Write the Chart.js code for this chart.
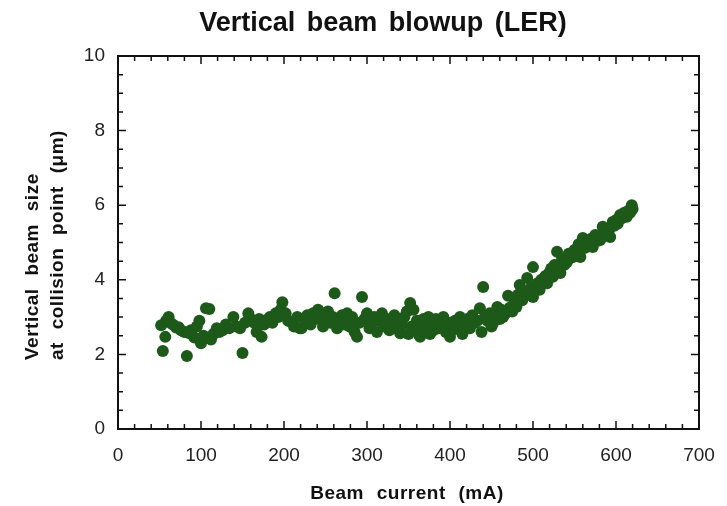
<!DOCTYPE html>
<html>
<head>
<meta charset="utf-8">
<title>Vertical beam blowup (LER)</title>
<script src="https://cdn.jsdelivr.net/npm/chart.js@4"></script>
<style>
  body { margin: 0; background: #fff; }
  #wrap { width: 727px; height: 506px; }
</style>
</head>
<body>
<div id="wrap"><canvas id="beamChart" width="727" height="506"></canvas></div>
<script>
// beam current (mA) and vertical beam size (um)
const beamCurrent = [
  52, 54, 57, 58, 61, 63, 66, 70, 73, 76, 80, 83, 86, 88, 92, 95, 98, 100, 103, 106, 110, 112, 115, 119, 122,
  126, 130, 134, 139, 143, 147, 150, 153, 157, 160, 164, 167, 170, 173, 176, 179, 183, 186, 190, 193, 196, 198, 202,
  205, 209, 212, 216, 219, 221, 225, 228, 232, 235, 238, 241, 244, 247, 250, 253, 256, 259, 261, 264, 267, 270,
  273, 276, 279, 282, 285, 288, 291, 294, 297, 300,
  303, 306, 309, 312, 315, 318, 321, 324, 327, 330, 333, 336, 338, 340, 342, 345, 348, 350, 352, 354, 356, 358,
  360, 362, 364, 366, 368, 370, 372, 374, 376, 378, 380, 383, 386, 389, 392, 395, 398, 400,
  403, 406, 409, 412, 415, 418, 421, 424, 427, 430, 433, 436, 438, 440, 442, 445, 448, 450, 452, 455, 457, 460,
  462, 464, 467, 470, 472, 475, 478, 480, 482, 484, 487, 490, 493, 495, 498, 500, 500, 503, 505, 508, 510, 513,
  515, 517, 520,
  522, 524, 526, 529, 531, 533, 535, 538, 541, 543, 546, 548, 550, 553, 555, 557, 560, 562, 565, 568, 570, 572,
  575, 578, 581, 584, 586, 588, 591, 593, 596, 598, 600, 602, 605, 607, 610, 613, 615, 617, 619, 620
];
const beamSize = [
  2.78, 2.09, 2.47, 2.9, 3.0, 2.85, 2.8, 2.72, 2.73, 2.65, 2.6, 1.96, 2.57, 2.65, 2.45, 2.75, 2.9, 2.3, 2.5, 3.24, 3.22, 2.4, 2.55, 2.7, 2.6,
  2.65, 2.8, 2.7, 3.0, 2.75, 2.7, 2.04, 2.85, 3.1, 2.95, 2.85, 2.6, 2.95, 2.47, 2.8, 2.92, 3.0, 2.85, 3.1, 3.0, 3.2, 3.4, 3.1,
  2.9, 2.87, 2.75, 3.0, 2.7, 2.7, 2.95, 3.05, 2.8, 3.1, 2.95, 3.2, 3.0, 2.75, 2.9, 3.15, 2.85, 3.0, 3.64, 2.7, 2.9, 3.05,
  2.8, 3.1, 2.75, 3.0, 2.6, 2.47, 2.85, 3.54, 2.95, 3.1,
  2.7, 2.85, 3.0, 2.6, 2.9, 3.1, 2.75, 2.95, 2.65, 2.85, 3.05, 2.7, 2.95, 2.57, 2.8, 3.0, 3.15, 2.55, 3.38, 2.75, 3.2, 2.65,
  2.9, 2.55, 2.47, 2.8, 2.95, 2.6, 2.75, 3.0, 2.55, 2.85, 2.65, 2.95, 2.7, 2.8, 3.0, 2.6, 2.85, 2.47,
  2.65, 2.9, 2.75, 3.0, 2.55, 2.8, 2.95, 2.7, 3.05, 2.85, 2.9, 3.24, 2.6, 3.81, 3.0, 2.9, 3.1, 2.75, 2.84, 3.05, 3.27, 2.95,
  3.2, 3.0, 3.1, 3.57, 3.25, 3.15, 3.4, 3.27, 3.6, 3.86, 3.45, 3.7, 4.05, 3.6, 3.8, 4.34, 3.54, 3.75, 3.9, 3.73, 4.0, 3.95,
  4.1, 3.91, 4.2,
  4.3, 4.08, 4.4, 4.75, 4.35, 4.18, 4.55, 4.4, 4.48, 4.7, 4.6, 4.61, 4.8, 4.7, 4.95, 4.61, 5.12, 4.85, 5.0, 4.9, 5.1, 4.88,
  5.2, 5.05, 5.07, 5.42, 5.25, 5.35, 5.3, 5.15, 5.55, 5.45, 5.6, 5.5, 5.74, 5.65, 5.8, 5.69, 5.85, 5.8, 6.0, 5.9
];
const xTicks = [0, 100, 200, 300, 400, 500, 600, 700];
const yTicks = [0, 2, 4, 6, 8, 10];

const font = "'Liberation Sans', Arial, Helvetica, sans-serif";

// frame, inward ticks on all four sides, titles
const framePlugin = {
    id: "frame",
    afterDraw(chart) {
        const ctx = chart.ctx;
        const a = chart.chartArea;
        const xs = chart.scales.x;
        const ys = chart.scales.y;
        ctx.save();
        ctx.strokeStyle = "#111";
        ctx.lineWidth = 2;
        ctx.strokeRect(a.left, a.top, a.right - a.left, a.bottom - a.top);

        ctx.lineWidth = 1.5;
        ctx.beginPath();
        for (let v = 0; v <= 700; v += 20) {
            const px = xs.getPixelForValue(v);
            const len = v % 100 === 0 ? 8 : 5;
            ctx.moveTo(px, a.bottom); ctx.lineTo(px, a.bottom - len);
            ctx.moveTo(px, a.top); ctx.lineTo(px, a.top + len);
        }
        for (let v = 0; v <= 10; v += 0.5) {
            const py = ys.getPixelForValue(v);
            const len = v % 2 === 0 ? 8 : 5;
            ctx.moveTo(a.left, py); ctx.lineTo(a.left + len, py);
            ctx.moveTo(a.right, py); ctx.lineTo(a.right - len, py);
        }
        ctx.stroke();

        ctx.fillStyle = "#111";
        ctx.textAlign = "center";
        ctx.textBaseline = "middle";
        ctx.font = "bold 27px " + font;
        ctx.wordSpacing = "4px";
        ctx.fillText("Vertical beam blowup (LER)", 383, 24);
        ctx.font = "bold 19px " + font;
        ctx.wordSpacing = "7px";
        ctx.letterSpacing = "0.5px";
        ctx.fillText("Beam current (mA)", 407, 494);

        // two-line y title, both lines start at the same height
        ctx.textAlign = "left";
        ctx.save();
        ctx.translate(33, 360);
        ctx.rotate(-Math.PI / 2);
        ctx.fillText("Vertical beam size", 0, 0);
        ctx.restore();
        ctx.save();
        ctx.translate(58, 360);
        ctx.rotate(-Math.PI / 2);
        ctx.fillText("at collision point (\u03bcm)", 0, 0);
        ctx.restore();
        ctx.restore();
    }
};

const points = beamCurrent.map((x, i) => ({ x: x, y: beamSize[i] }));

new Chart(document.getElementById("beamChart"), {
    type: "scatter",
    data: {
        datasets: [{
            label: "LER",
            data: points,
            backgroundColor: "#1d5a19",
            borderColor: "#1d5a19",
            pointRadius: 6,
            pointHoverRadius: 6,
            borderWidth: 0
        }]
    },
    options: {
        responsive: false,
        animation: false,
        layout: { padding: { left: 0, top: 56, right: 28, bottom: 0 } },
        plugins: {
            legend: { display: false },
            tooltip: { enabled: false }
        },
        scales: {
            x: {
                type: "linear",
                min: 0,
                max: 700,
                afterBuildTicks(scale) { scale.ticks = xTicks.map(v => ({ value: v })); },
                afterFit(scale) { scale.height = 77; },
                grid: { display: false },
                border: { display: false },
                ticks: { color: "#222", padding: 7, font: { family: font, size: 19 } }
            },
            y: {
                type: "linear",
                min: 0,
                max: 10,
                afterBuildTicks(scale) { scale.ticks = yTicks.map(v => ({ value: v })); },
                afterFit(scale) { scale.width = 118; },
                grid: { display: false },
                border: { display: false },
                ticks: { color: "#222", padding: 5, font: { family: font, size: 19 } }
            }
        }
    },
    plugins: [framePlugin]
});
</script>
</body>
</html>
